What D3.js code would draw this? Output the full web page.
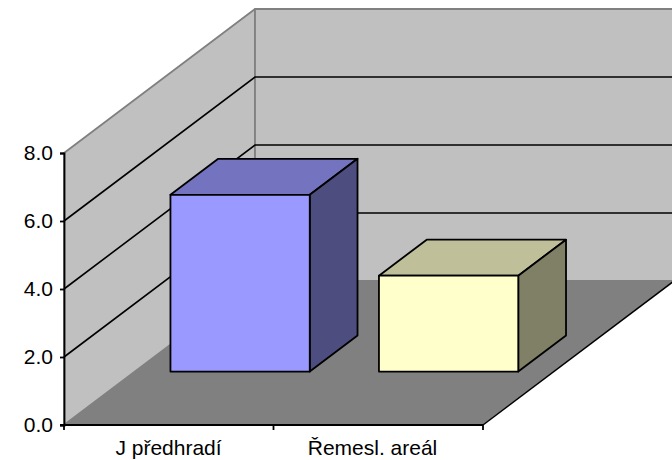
<!DOCTYPE html>
<html>
<head>
<meta charset="utf-8">
<script src="https://cdn.jsdelivr.net/npm/d3@7"></script>
<style>
  html, body { margin: 0; padding: 0; background: #fff; }
  svg { display: block; }
  text { font-family: "Liberation Sans", Arial, sans-serif; font-size: 21px; fill: #000; }
</style>
</head>
<body>
<svg id="viz" width="672" height="460"></svg>
<script>
const categories = ["J předhradí", "Řemesl. areál"]
const values = [5.2, 2.82]
const y_ticks = [0, 2, 4, 6, 8]
const front_colors = ["#9999ff", "#ffffcc"]
const top_colors = ["#7373bf", "#bfbf99"]
const side_colors = ["#4d4d80", "#808066"]

const svg = d3.select("#viz"),
    x0 = 64, x1 = 483,
    y0 = 425, y8 = 153,
    depth_x = 191, depth_y = 144

const x = d3.scaleBand().domain(categories).range([x0, x1]).paddingInner(0).paddingOuter(0)
const y = d3.scaleLinear().domain([0, 8]).range([y0, y8])

// oblique projection: px = position along x axis, v = value, d = depth 0..1
const pt = (px, v, d) => [px + d * depth_x, y(v) - d * depth_y]
const poly = (g, pts, fill, stroke, sw) => g.append("polygon")
    .attr("points", pts.map(p => p.join(",")).join(" "))
    .attr("fill", fill)
    .attr("stroke", stroke || "none")
    .attr("stroke-width", sw || 0)
    .attr("stroke-linejoin", "round")

const wall = svg.append("g")

// side wall, back wall, floor
poly(wall, [pt(x0, 0, 0), pt(x0, 8, 0), pt(x0, 8, 1), pt(x0, 0, 1)], "#c0c0c0", "#808080", 1.8)
poly(wall, [pt(x0, 0, 1), pt(x0, 8, 1), pt(x1, 8, 1), pt(x1, 0, 1)], "#c0c0c0", "#808080", 1.8)
poly(wall, [pt(x0, 0, 0), pt(x1, 0, 0), pt(x1, 0, 1), pt(x0, 0, 1)], "#808080")

// gridlines
y_ticks.filter(t => t > 0 && t < 8).forEach(t => {
    wall.append("polyline")
        .attr("points", [pt(x0, t, 0), pt(x0, t, 1), pt(x1, t, 1)].map(p => p.join(",")).join(" "))
        .attr("fill", "none")
        .attr("stroke", "#000")
        .attr("stroke-width", 1.6)
})

// floor right edge
wall.append("line")
    .attr("x1", x1).attr("y1", y0)
    .attr("x2", x1 + depth_x).attr("y2", y0 - depth_y)
    .attr("stroke", "#000").attr("stroke-width", 1.5)

// bars
const bar_width = x.bandwidth() * 0.665,
    d_front = 0.371, d_back = 0.621

categories.forEach((c, i) => {
    const g = svg.append("g"),
        l = x(c) + (x.bandwidth() - bar_width) / 2 + (i == 1 ? -0.5 : 0.5),
        r = l + bar_width,
        v = values[i]

    poly(g, [pt(l, v, d_front), pt(r, v, d_front), pt(r, v, d_back), pt(l, v, d_back)], top_colors[i], "#000", 1.8)
    poly(g, [pt(r, 0, d_front), pt(r, v, d_front), pt(r, v, d_back), pt(r, 0, d_back)], side_colors[i], "#000", 1.8)
    poly(g, [pt(l, 0, d_front), pt(r, 0, d_front), pt(r, v, d_front), pt(l, v, d_front)], front_colors[i], "#000", 1.8)
})

// value axis
const y_axis = svg.append("g")
    .attr("transform", `translate(${x0},0)`)
    .call(d3.axisLeft(y).tickValues(y_ticks).tickFormat(d3.format(".1f")).tickSize(4).tickPadding(7))
y_axis.attr("font-family", null).attr("font-size", null)
y_axis.selectAll("path, line").attr("stroke", "#000").attr("stroke-width", 1.8)

// category axis, labels sit where the original renderer left them
const x_ticks = [x0, x(categories[1]), x1]
svg.append("line")
    .attr("x1", x0 - 4).attr("x2", x1).attr("y1", y0).attr("y2", y0)
    .attr("stroke", "#000").attr("stroke-width", 2.2)
svg.selectAll(".xtick").data(x_ticks).enter().append("line")
    .attr("class", "xtick")
    .attr("x1", d => d).attr("x2", d => d)
    .attr("y1", y0).attr("y2", y0 + 5)
    .attr("stroke", "#000").attr("stroke-width", 1.8)

const label_x = [168.5, 372.5]
svg.selectAll(".xlabel").data(categories).enter().append("text")
    .attr("class", "xlabel")
    .attr("x", (d, i) => label_x[i])
    .attr("y", 455)
    .attr("text-anchor", "middle")
    .text(d => d)
</script>
</body>
</html>
